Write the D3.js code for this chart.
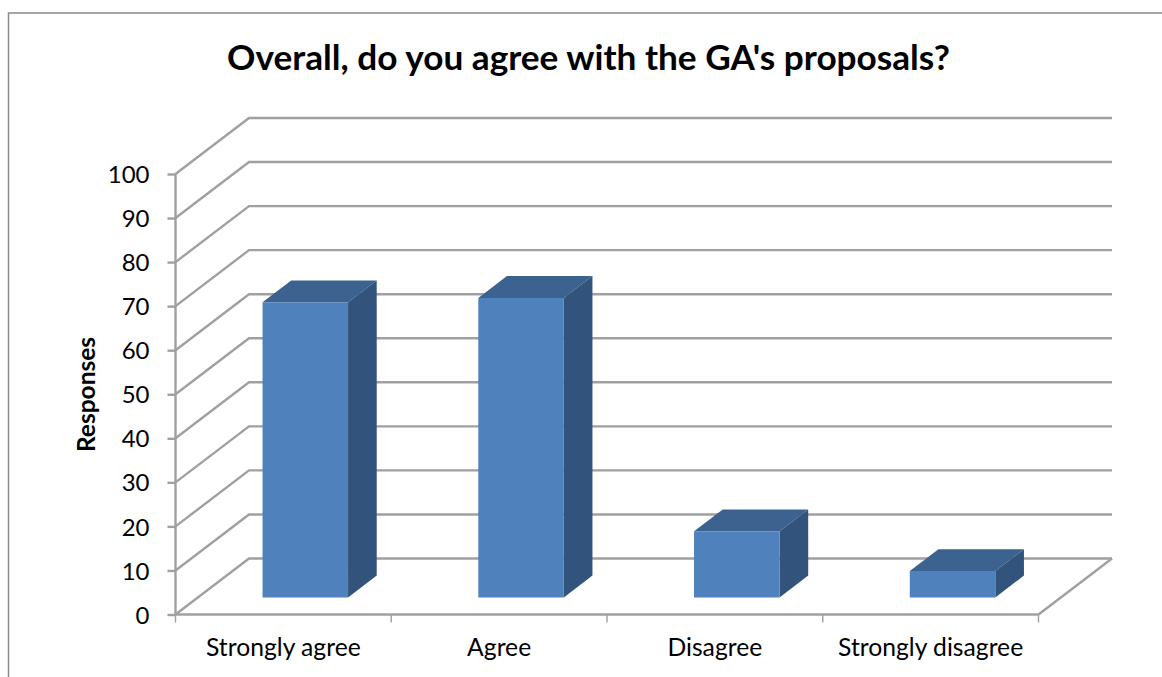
<!DOCTYPE html>
<html>
<head>
<meta charset="utf-8">
<script src="https://cdn.jsdelivr.net/npm/d3@7/dist/d3.min.js"></script>
<style>
  html, body { margin: 0; padding: 0; background: #fff; }
  svg { display: block; }
  text { font-family: Lato, "Open Sans", sans-serif; fill: #000; }
</style>
</head>
<body>
<svg id="chart" width="1162" height="677"></svg>
<script>
// Survey responses
const categories = ["Strongly agree", "Agree", "Disagree", "Strongly disagree"];
const responses = [67, 68, 15, 6];
const yTicks = d3.range(0, 101, 10);
const chartTitle = "Overall, do you agree with the GA's proposals?";
const yTitle = "Responses";

const svg = d3.select("#chart");

// Outer chart frame, open at the right and bottom edges of the page
svg.append("path")
  .attr("d", "M8.5,677V13H1162")
  .attr("fill", "none")
  .attr("stroke", "#8a8a8a")
  .attr("stroke-width", 1.5);

// Front plane scales
const x = d3.scaleBand().domain(categories).range([175.5, 1038.5]);
const xEdges = d3.scaleLinear().domain([0, categories.length]).range([175.5, 1038.5]);
const y = d3.scaleLinear().domain([0, 100]).range([614.5, 174]);

// Oblique projection: depth 0 is the front plane, depth 1 the back wall
const depthX = d3.scaleLinear().domain([0, 1]).range([0, 73.5]);
const depthY = d3.scaleLinear().domain([0, 1]).range([0, -56]);
const pt = (px, py, d) => [px + depthX(d), py + depthY(d)];
const poly = pts => d3.line()(pts) + "Z";

const gridColor = "#a0a0a0";
const grid = svg.append("g")
  .attr("fill", "none")
  .attr("stroke", gridColor)
  .attr("stroke-width", 2.4);

// Side wall diagonals and back wall rules
grid.selectAll("path.wall")
  .data(yTicks)
  .join("path")
  .attr("class", "wall")
  .attr("d", v => d3.line()([
    pt(x.range()[0], y(v), 0),
    pt(x.range()[0], y(v), 1),
    pt(x.range()[1], y(v), 1)
  ]));

// Right edge of the floor
grid.append("path")
  .attr("d", d3.line()([pt(x.range()[1], y(0), 0), pt(x.range()[1], y(0), 1)]));

// Bars: each box sits centred in its band and in the chart depth
const barWidth = 85.5;
const dNear = 0.305;
const dFar = 0.695;
const bars = svg.append("g").selectAll("g")
  .data(categories.map((c, i) => ({ c, v: responses[i] })))
  .join("g");

const left = d => x(d.c) + (x.bandwidth() - barWidth) / 2 - 0.5;
const right = d => left(d) + barWidth;

bars.append("path")
  .attr("fill", "#3c6290")
  .attr("d", d => poly([
    pt(left(d), y(d.v), dNear), pt(right(d), y(d.v), dNear),
    pt(right(d), y(d.v), dFar), pt(left(d), y(d.v), dFar)
  ]));
bars.append("path")
  .attr("fill", "#32537b")
  .attr("d", d => poly([
    pt(right(d), y(0), dNear), pt(right(d), y(d.v), dNear),
    pt(right(d), y(d.v), dFar), pt(right(d), y(0), dFar)
  ]));
bars.append("path")
  .attr("fill", "#4f81bd")
  .attr("d", d => poly([
    pt(left(d), y(0), dNear), pt(right(d), y(0), dNear),
    pt(right(d), y(d.v), dNear), pt(left(d), y(d.v), dNear)
  ]));

// Value axis
const yAxis = svg.append("g")
  .attr("transform", "translate(175.5,0)")
  .call(d3.axisLeft(y).tickValues(yTicks).tickSize(8).tickPadding(18).tickFormat(d3.format("d")));
yAxis.selectAll("text").attr("font-size", 24).style("font-family", "Lato, sans-serif").attr("dy", "0.36em");
yAxis.select(".domain").attr("d", `M0,${y(100)}V${y(0)}`).attr("stroke", gridColor).attr("stroke-width", 2.4);
yAxis.selectAll(".tick line").attr("stroke", gridColor).attr("stroke-width", 2.4);

// Category axis: labels centred in the bands, ticks on the band boundaries
const xAxis = svg.append("g")
  .attr("transform", `translate(0,${y(0)})`)
  .call(d3.axisBottom(x).tickSize(0).tickPadding(24));
xAxis.selectAll("text").attr("font-size", 24.7).style("font-family", "Lato, sans-serif").attr("dy", "0.71em");
xAxis.select(".domain").attr("d", `M${x.range()[0]},0H${x.range()[1]}`).attr("stroke", gridColor).attr("stroke-width", 2.4);
xAxis.selectAll("line.edge")
  .data(d3.range(0, categories.length + 1))
  .join("line")
  .attr("class", "edge")
  .attr("x1", i => xEdges(i)).attr("x2", i => xEdges(i))
  .attr("y1", 0).attr("y2", 8)
  .attr("stroke", gridColor)
  .attr("stroke-width", 1.4);

// Titles
svg.append("text")
  .attr("x", 588.5).attr("y", 69.5)
  .attr("text-anchor", "middle")
  .attr("font-size", 35.2)
  .attr("font-weight", 700)
  .text(chartTitle);

svg.append("text")
  .attr("transform", "translate(95,394.5) rotate(-90)")
  .attr("text-anchor", "middle")
  .attr("font-size", 24.5)
  .attr("font-weight", 700)
  .text(yTitle);
</script>
</body>
</html>
